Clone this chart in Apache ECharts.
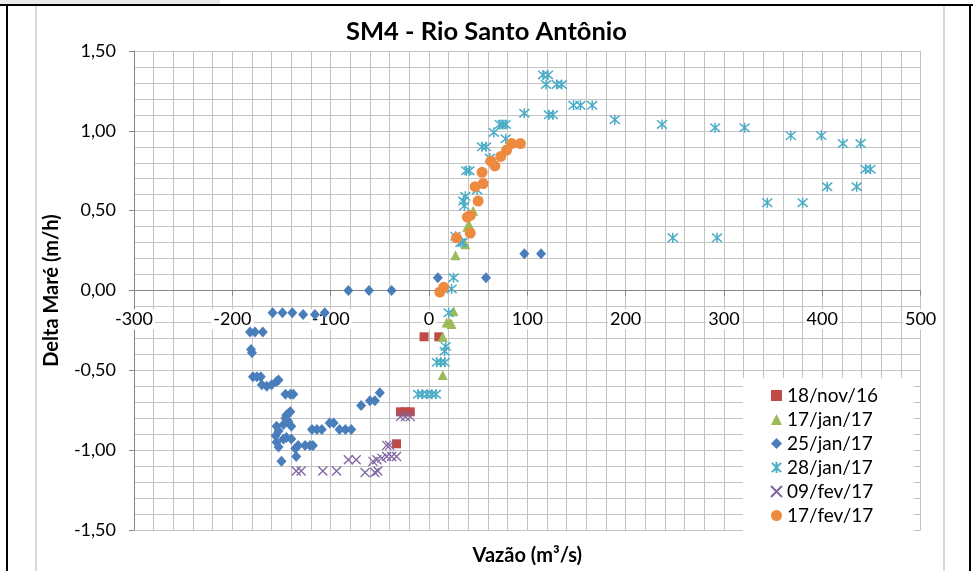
<!DOCTYPE html>
<html>
<head>
<meta charset="utf-8">
<script src="https://cdn.jsdelivr.net/npm/echarts@6/dist/echarts.min.js"></script>
<style>
html,body{margin:0;padding:0;background:#fff;}
#chart{width:973px;height:571px;}
</style>
</head>
<body>
<div id="chart"></div>
<script>
// ---- Data (x = Vazão m³/s, y = Delta Maré m/h) ----
var xTicks = [-300, -200, -100, 0, 100, 200, 300, 400, 500];
var yTicks = [-1.5, -1.0, -0.5, 0, 0.5, 1.0, 1.5];

var seriesNames = ['18/nov/16', '17/jan/17', '25/jan/17', '28/jan/17', '09/fev/17', '17/fev/17'];

var nov18 = [[-5,-0.29],[10,-0.29],[-29,-0.76],[-24,-0.76],[-19,-0.76],[-33,-0.96]];

var jan17 = [[45,0.50],[41,0.41],[39,0.40],[37,0.29],[27,0.22],[25,-0.13],[18,-0.20],[21,-0.20],[23,-0.21],[14,-0.29],[14,-0.53]];

var jan25 = [
  [-38,0.00],[-61,0.00],[-82,0.00],[9,0.08],[58,0.08],[97,0.23],[114,0.23],
  [-159,-0.14],[-149,-0.14],[-139,-0.14],[-128,-0.15],[-116,-0.15],[-106,-0.14],
  [-182,-0.26],[-177,-0.26],[-169,-0.26],
  [-181,-0.37],[-180,-0.39],
  [-179,-0.54],[-175,-0.54],[-171,-0.54],
  [-170,-0.59],[-165,-0.60],[-160,-0.59],[-155,-0.57],[-153,-0.56],
  [-146,-0.65],[-141,-0.65],[-138,-0.65],
  [-141,-0.76],[-143,-0.77],[-145,-0.78],[-146,-0.80],[-143,-0.82],[-148,-0.84],[-140,-0.85],
  [-155,-0.85],[-153,-0.88],[-156,-0.91],[-155,-0.95],[-153,-0.98],
  [-145,-0.92],[-140,-0.93],[-148,-0.93],
  [-133,-0.97],[-126,-0.97],[-121,-0.97],[-118,-0.97],
  [-136,-0.99],[-135,-1.04],[-150,-1.07],
  [-119,-0.87],[-114,-0.87],[-109,-0.87],
  [-101,-0.83],[-97,-0.83],
  [-91,-0.87],[-85,-0.87],[-79,-0.87],
  [-69,-0.72],[-60,-0.69],[-55,-0.69],[-50,-0.64]
];

var jan28 = [
  [116,1.35],[121,1.35],[119,1.29],[130,1.29],[135,1.29],[122,1.10],[126,1.10],[97,1.11],
  [72,1.04],[75,1.04],[78,1.04],[66,0.99],[78,0.95],[54,0.90],[58,0.90],[62,0.83],
  [38,0.75],[41,0.75],[49,0.63],[37,0.59],[35,0.56],[36,0.53],[27,0.34],[32,0.30],[34,0.30],
  [25,0.08],[23,0.01],
  [147,1.16],[154,1.16],[166,1.16],[189,1.07],[237,1.04],[291,1.02],[321,1.02],
  [368,0.97],[399,0.97],[421,0.92],[439,0.92],[444,0.76],[449,0.76],[405,0.65],[435,0.65],
  [344,0.55],[380,0.55],[248,0.33],[293,0.33],
  [20,-0.14],[17,-0.35],[16,-0.38],[8,-0.45],[12,-0.45],[16,-0.45],
  [-11,-0.65],[-7,-0.65],[-2,-0.65],[3,-0.65],[7,-0.65]
];

var fev09 = [
  [-29,-0.79],[-24,-0.79],[-19,-0.79],[-43,-0.97],[-40,-0.97],
  [-53,-1.06],[-48,-1.05],[-43,-1.04],[-38,-1.04],[-33,-1.04],[-57,-1.07],
  [-82,-1.06],[-74,-1.06],[-135,-1.13],[-130,-1.13],[-108,-1.13],[-94,-1.13],
  [-65,-1.14],[-55,-1.14],[-52,-1.13]
];

var fev17 = [
  [84,0.92],[93,0.92],[79,0.88],[73,0.84],[63,0.81],[67,0.78],[54,0.74],[55,0.67],[47,0.65],
  [50,0.56],[39,0.46],[42,0.47],[42,0.36],[28,0.33],[15,0.02],[11,-0.01]
];

var FONT = 'Lato';
var X_PATH = 'path://M0,0L10,10M10,0L0,10';
var STAR_PATH = 'path://M0,0L10,10M10,0L0,10M5,-1L5,11';
var AXIS_GREY = '#868686';
var GRID_GREY = '#c3c3c3';

function fmtY(v){ return v.toFixed(2).replace('.', ','); }

var chart = echarts.init(document.getElementById('chart'), null, {renderer:'canvas'});

var xMin = xTicks[0], xMax = xTicks[xTicks.length - 1];
var yMin = yTicks[0], yMax = yTicks[yTicks.length - 1];

var option = {
  backgroundColor: '#ffffff',
  animation: false,
  textStyle: {fontFamily: FONT},
  title: {
    text: 'SM4 - Rio Santo Antônio',
    left: 'center',
    top: 19,
    padding: 0,
    textStyle: {fontFamily: FONT, fontSize: 25.5, fontWeight: 'bold', color: '#000'}
  },
  grid: [
    // main plot (full range)
    {left: 134, right: 52.4, top: 51, bottom: 41, containLabel: false, outerBoundsMode: 'none'},
    // upper half (y 0..1.5): its bottom edge is the y = 0 line, used to draw the x axis labels there
    {left: 134, right: 52.4, top: 51, bottom: 280.4, containLabel: false, outerBoundsMode: 'none'}
  ],
  xAxis: [
    {
      gridIndex: 0, type: 'value', min: xMin, max: xMax, interval: 100,
      name: 'Vazão (m³/s)', nameLocation: 'middle', nameGap: 16,
      nameTextStyle: {fontFamily: FONT, fontSize: 20, fontWeight: 'bold', color: '#000'},
      axisLine: {show: false},
      axisTick: {show: false},
      axisLabel: {show: false},
      splitLine: {show: true, lineStyle: {color: GRID_GREY, width: 1}},
      minorTick: {show: false, splitNumber: 5},
      minorSplitLine: {show: true, lineStyle: {color: GRID_GREY, width: 1}}
    },
    {
      gridIndex: 1, type: 'value', min: xMin, max: xMax, interval: 100, z: 1,
      axisLine: {show: true, onZero: false, lineStyle: {color: AXIS_GREY, width: 1}},
      axisTick: {show: true, length: 5, inside: false, lineStyle: {color: AXIS_GREY}},
      axisLabel: {fontFamily: FONT, fontSize: 18, color: '#000', margin: 19, backgroundColor: '#fff', padding: [1, 2]},
      splitLine: {show: false}
    }
  ],
  yAxis: [
    {
      gridIndex: 0, type: 'value', min: yMin, max: yMax, interval: 0.5,
      name: 'Delta Maré (m/h)', nameLocation: 'middle', nameRotate: 90, nameGap: 72,
      nameTextStyle: {fontFamily: FONT, fontSize: 20, fontWeight: 'bold', color: '#000'},
      axisLine: {show: true, onZero: false, lineStyle: {color: AXIS_GREY, width: 1}},
      axisTick: {show: true, length: 5, inside: false, lineStyle: {color: AXIS_GREY}},
      axisLabel: {fontFamily: FONT, fontSize: 18, color: '#000', margin: 18, formatter: fmtY},
      splitLine: {show: true, lineStyle: {color: GRID_GREY, width: 1}},
      minorTick: {show: false, splitNumber: 5},
      minorSplitLine: {show: true, lineStyle: {color: GRID_GREY, width: 1}}
    },
    {
      gridIndex: 1, type: 'value', min: 0, max: yMax, show: false
    }
  ],
  legend: {
    orient: 'vertical',
    left: 743,
    top: 378,
    backgroundColor: '#ffffff',
    padding: [8, 36, 9, 27],
    itemWidth: 11,
    itemHeight: 11,
    itemGap: 5,
    textStyle: {fontFamily: FONT, fontSize: 19, color: '#000', lineHeight: 19},
    data: seriesNames
  },
  graphic: [
    {type: 'rect', shape: {x: 0, y: 0, width: 220, height: 4}, style: {fill: '#e9e9e9'}, silent: true},
    {type: 'rect', shape: {x: 0, y: 4, width: 973, height: 2}, style: {fill: '#000'}, silent: true},
    {type: 'rect', shape: {x: 6, y: 4, width: 2, height: 567}, style: {fill: '#000'}, silent: true},
    {type: 'rect', shape: {x: 969, y: 4, width: 2, height: 567}, style: {fill: '#000'}, silent: true},
    {type: 'rect', shape: {x: 35.5, y: 6, width: 1, height: 565}, style: {fill: '#b4b4b4'}, silent: true},
    {type: 'rect', shape: {x: 943.5, y: 6, width: 1, height: 565}, style: {fill: '#b4b4b4'}, silent: true}
  ],
  series: [
    {name: seriesNames[0], type: 'scatter', data: nov18, symbol: 'rect', symbolSize: 9,
     itemStyle: {color: '#BE4B48', opacity: 1}},
    {name: seriesNames[1], type: 'scatter', data: jan17, symbol: 'triangle', symbolSize: 10,
     itemStyle: {color: '#9BBB59', opacity: 1}},
    {name: seriesNames[2], type: 'scatter', data: jan25, symbol: 'diamond', symbolSize: [10, 11],
     itemStyle: {color: '#4A7EBB', opacity: 1}},
    {name: seriesNames[3], type: 'scatter', data: jan28, symbol: STAR_PATH, symbolSize: 10,
     itemStyle: {color: 'rgba(0,0,0,0)', borderColor: '#4BACC6', borderWidth: 1.5, opacity: 1}},
    {name: seriesNames[4], type: 'scatter', data: fev09, symbol: X_PATH, symbolSize: 9,
     itemStyle: {color: 'rgba(0,0,0,0)', borderColor: '#8064A2', borderWidth: 1.3, opacity: 1}},
    {name: seriesNames[5], type: 'scatter', data: fev17, symbol: 'circle', symbolSize: 11,
     itemStyle: {color: '#EE8A40', opacity: 1}}
  ]
};
chart.setOption(option);
</script>
</body>
</html>
